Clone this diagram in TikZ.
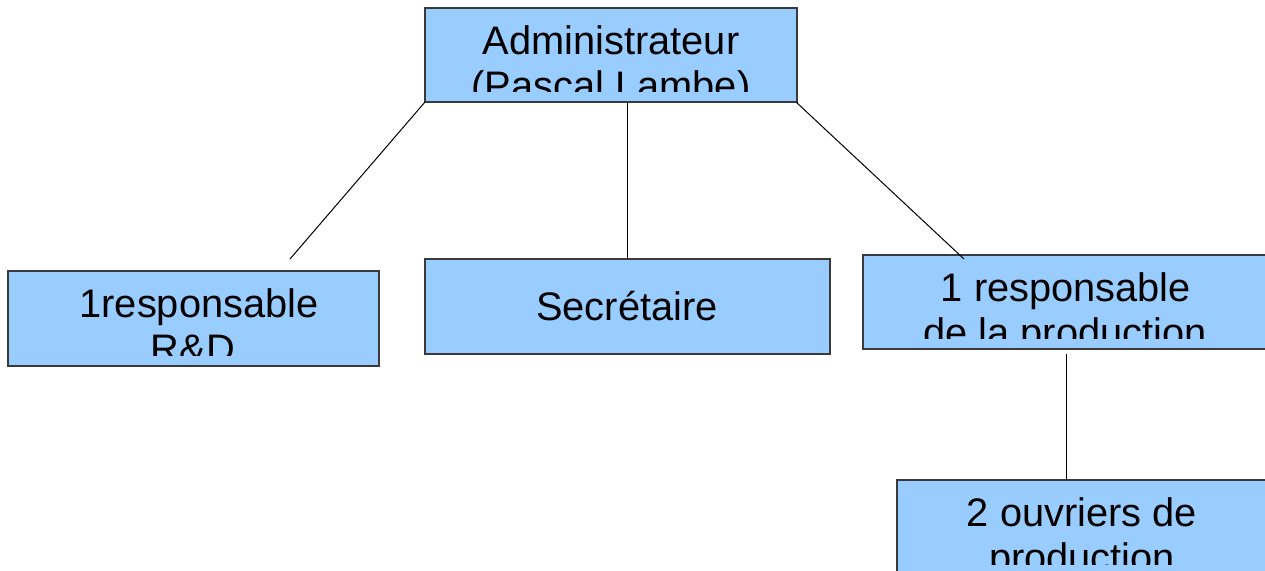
\documentclass[tikz,border=0pt]{standalone}
\usepackage{fontspec}
\setmainfont{Liberation Sans}
\definecolor{boxfill}{HTML}{99CCFF}
\definecolor{boxline}{HTML}{3A3A3A}
\begin{document}
\begin{tikzpicture}[x=0.5pt,y=-0.5pt,
  orgbox/.style={draw=boxline,fill=boxfill,line width=0.6pt,inner sep=0pt,outer sep=0pt,anchor=north west},
  txt/.style={inner sep=0pt,outer sep=0pt,anchor=base,font=\fontsize{19.9pt}{22.5pt}\selectfont},
  link/.style={draw=black,line width=0.5pt}]
\useasboundingbox (0,0) rectangle (1265,571);
% boxes
\node[orgbox,minimum width=186pt,minimum height=47pt] (admin) at (425,8) {};
\node[orgbox,minimum width=185.5pt,minimum height=47.5pt] (rd) at (8,271) {};
\node[orgbox,minimum width=202.5pt,minimum height=47.5pt] (secr) at (425,259) {};
\node[orgbox,minimum width=205pt,minimum height=47pt] (prod) at (863,255) {};
\node[orgbox,minimum width=190pt,minimum height=60pt] (ouv) at (897,480) {};
% texts (clipped as in the reference)
\begin{scope}
\clip (425,8) rectangle (797,92);
\node[txt] (t1) at (611,55) {Administrateur};
\node[txt] (t2) at (611,100) {(Pascal Lambe)};
\end{scope}
\begin{scope}
\clip (8,271) rectangle (379,356);
\node[txt] (t3) at (199,318) {1responsable};
\node[txt] (t4) at (193,363) {R\&D};
\end{scope}
\node[txt] (t5) at (627,321) {Secrétaire};
\begin{scope}
\clip (863,255) rectangle (1265,339);
\node[txt] (t6) at (1066,302) {1 responsable};
\node[txt] (t7) at (1065,347) {de la production};
\end{scope}
\begin{scope}
\clip (897,480) rectangle (1265,565);
\node[txt] (t8) at (1082,527) {2 ouvriers de};
\node[txt] (t9) at (1082,572) {production};
\end{scope}
% connector ends
\coordinate (rdend) at (290,259);
\coordinate (adminmid) at (627,102);
\coordinate (secrend) at (627,259);
\coordinate (adminright) at (796,102);
\coordinate (prodend) at (964,259);
\coordinate (prodbot) at (1066,354);
\coordinate (ouvtop) at (1066,480);
\draw[link] (admin.south west) -- (rdend);
\draw[link] (adminmid) -- (secrend);
\draw[link] (adminright) -- (prodend);
\draw[link] (prodbot) -- (ouvtop);
\end{tikzpicture}
\end{document}
